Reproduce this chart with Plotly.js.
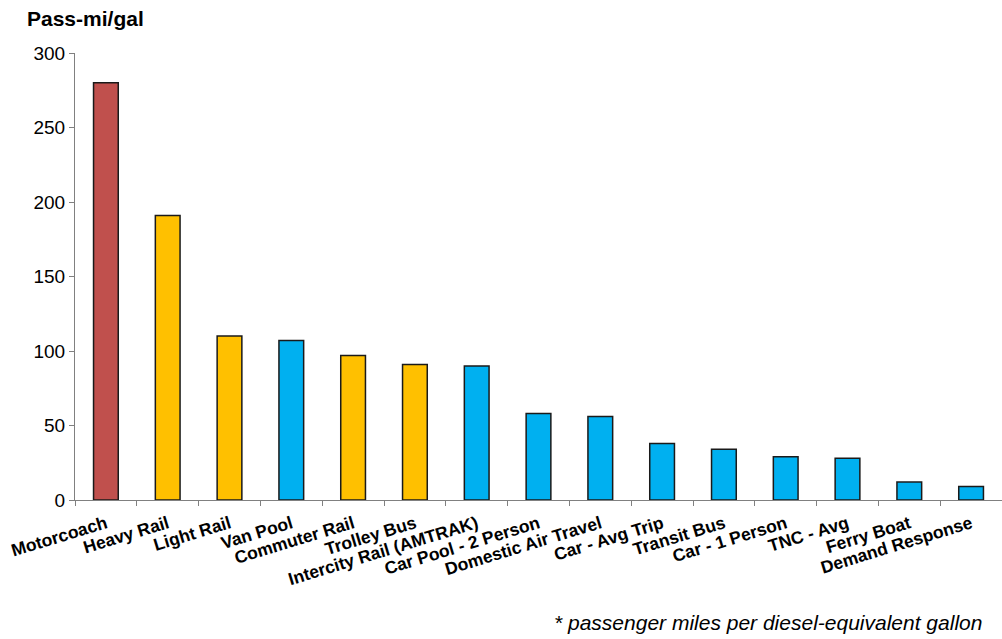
<!DOCTYPE html>
<html>
<head>
<meta charset="utf-8">
<script src="https://cdn.plot.ly/plotly-3.0.1.min.js"></script>
<style>html,body{margin:0;padding:0;background:#fff;}#chart{width:1002px;height:639px;}</style>
</head>
<body>
<div id="chart"></div>
<script>
const categories = ["Motorcoach","Heavy Rail","Light Rail","Van Pool","Commuter Rail","Trolley Bus","Intercity Rail (AMTRAK)","Car Pool - 2 Person","Domestic Air Travel","Car - Avg Trip","Transit Bus","Car - 1 Person","TNC - Avg","Ferry Boat","Demand Response"];
const values = [280, 191, 110, 107, 97, 91, 90, 58, 56, 38, 34, 29, 28, 12, 9];
const groups = ["motorcoach","rail","rail","other","rail","rail","other","other","other","other","other","other","other","other","other"];
const yTicks = [0, 50, 100, 150, 200, 250, 300];
const groupColors = {motorcoach: "#C0504D", rail: "#FFC000", other: "#00B0F0"};

const trace = {
  type: "bar",
  x: categories,
  y: values,
  marker: {color: groups.map(g => groupColors[g]), line: {color: "#1a1a1a", width: 1.5}},
  hoverinfo: "x+y"
};

const layout = {
  width: 1002, height: 639,
  margin: {l: 75, r: 0, t: 53, b: 139},
  paper_bgcolor: "#fff", plot_bgcolor: "#fff",
  bargap: 0.6,
  showlegend: false,
  font: {family: "Liberation Sans, Arial, sans-serif", color: "#000"},
  xaxis: {
    type: "category",
    tickangle: -17,
    tickfont: {size: 17.5, family: "Liberation Sans, Arial, sans-serif", weight: "bold", color: "#000"},
    ticklabelstandoff: 6,
    showline: true, linecolor: "#808080", linewidth: 1,
    ticks: "outside", ticklen: 5, tickcolor: "#808080", tickson: "boundaries",
    showgrid: false, zeroline: false, range: [-0.5, 14.5]
  },
  yaxis: {
    range: [0, 300],
    tickvals: yTicks,
    ticktext: yTicks.map(String),
    tickfont: {size: 19, color: "#000"},
    showline: true, linecolor: "#808080", linewidth: 1,
    ticks: "outside", ticklen: 5, tickcolor: "#808080",
    showgrid: false, zeroline: false
  },
  annotations: [
    {text: "<b>Pass-mi/gal</b>", xref: "paper", yref: "paper", x: -0.054, xanchor: "left", y: 1.0, yshift: 35, yanchor: "middle", showarrow: false, font: {size: 21, color: "#000"}},
    {text: "<i>* passenger miles per diesel-equivalent gallon</i>", xref: "paper", yref: "paper", x: 0.981, xanchor: "right", y: 0, yshift: -122, yanchor: "middle", showarrow: false, font: {size: 21, color: "#000"}}
  ]
};

Plotly.newPlot("chart", [trace], layout, {displayModeBar: false, staticPlot: true});
</script>
</body>
</html>
